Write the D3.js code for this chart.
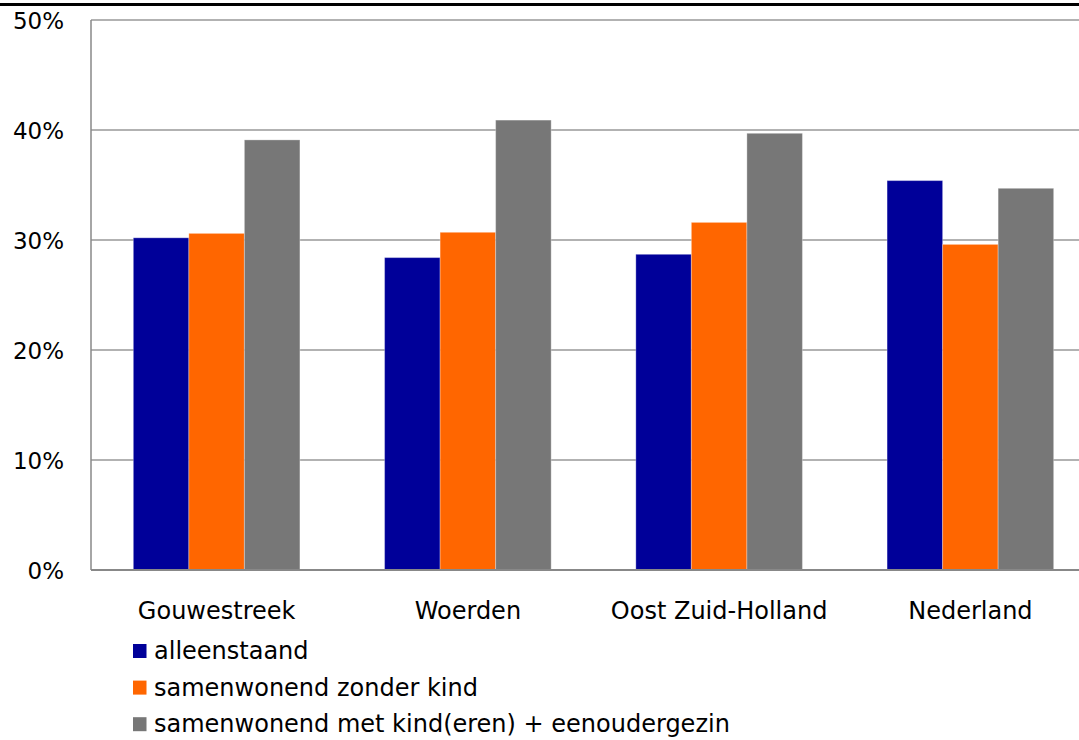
<!DOCTYPE html>
<html>
<head>
<meta charset="utf-8">
<script src="https://cdn.jsdelivr.net/npm/d3@7/dist/d3.min.js"></script>
<style>
  html, body { margin: 0; padding: 0; background: #fff; }
  svg { display: block; }
  text { font-family: "DejaVu Sans", Verdana, sans-serif; fill: #000; }
</style>
</head>
<body>
<svg id="chart" width="1079" height="740"></svg>
<script>
// Household composition per region (share of households)
const categories = ["Gouwestreek", "Woerden", "Oost Zuid-Holland", "Nederland"];
const seriesNames = [
  "alleenstaand",
  "samenwonend zonder kind",
  "samenwonend met kind(eren) + eenoudergezin"
];
const alleenstaand = [30.2, 28.4, 28.7, 35.4];
const samenwonendZonderKind = [30.6, 30.7, 31.6, 29.6];
const samenwonendMetKind = [39.1, 40.9, 39.7, 34.7];
const yTicks = [0, 10, 20, 30, 40, 50];
const colors = ["#000099", "#ff6600", "#777777"];

const seriesValues = [alleenstaand, samenwonendZonderKind, samenwonendMetKind];

const svg = d3.select("#chart");
const plot = { left: 91, right: 1096, top: 20, bottom: 570 };
const fontSize = 24;

// Thick rule at the top of the page
svg.append("rect")
  .attr("x", 0).attr("y", 3)
  .attr("width", 1079).attr("height", 3)
  .attr("fill", "#000");

const x0 = d3.scaleBand()
  .domain(categories)
  .range([plot.left, plot.right])
  .paddingInner(0.337)
  .paddingOuter(0.1685);

const x1 = d3.scaleBand()
  .domain(d3.range(seriesNames.length))
  .range([0, x0.bandwidth()])
  .padding(0);

const y = d3.scaleLinear()
  .domain([0, 50])
  .range([plot.bottom, plot.top]);

// Horizontal gridlines
svg.append("g")
  .selectAll("line")
  .data(yTicks.filter(t => t > 0))
  .join("line")
  .attr("x1", plot.left).attr("x2", plot.right)
  .attr("y1", d => y(d)).attr("y2", d => y(d))
  .attr("stroke", "#999")
  .attr("stroke-width", 1.3);

// Y axis labels
const yAxis = d3.axisLeft(y)
  .tickValues(yTicks)
  .tickFormat(d => d + "%")
  .tickSize(0)
  .tickPadding(27);

svg.append("g")
  .attr("transform", `translate(${plot.left},0)`)
  .call(yAxis)
  .call(g => g.select(".domain").remove())
  .call(g => g.selectAll("text")
    .attr("font-family", "DejaVu Sans, Verdana, sans-serif")
    .attr("font-size", fontSize - 1)
    .attr("fill", "#000")
    .attr("dy", "0.36em"));

// Bars
const groups = svg.append("g")
  .selectAll("g")
  .data(categories)
  .join("g")
  .attr("transform", d => `translate(${x0(d)},0)`);

groups.selectAll("rect")
  .data((d, i) => seriesValues.map((vals, s) => ({ s, v: vals[i] })))
  .join("rect")
  .attr("x", d => x1(d.s))
  .attr("y", d => y(d.v))
  .attr("width", x1.bandwidth())
  .attr("height", d => y(0) - y(d.v))
  .attr("fill", d => colors[d.s])
  .attr("stroke", "rgba(255,255,255,0.3)")
  .attr("stroke-width", 1);

// Left axis line and baseline
svg.append("line")
  .attr("x1", plot.left).attr("x2", plot.left)
  .attr("y1", plot.top).attr("y2", plot.bottom)
  .attr("stroke", "#888").attr("stroke-width", 1.5);
svg.append("line")
  .attr("x1", plot.left).attr("x2", plot.right)
  .attr("y1", plot.bottom).attr("y2", plot.bottom)
  .attr("stroke", "#888").attr("stroke-width", 2);

// Category labels
const xAxis = d3.axisBottom(x0).tickSize(0).tickPadding(0);
svg.append("g")
  .attr("transform", `translate(0,${plot.bottom})`)
  .call(xAxis)
  .call(g => g.select(".domain").remove())
  .call(g => g.selectAll("text")
    .attr("font-family", "DejaVu Sans, Verdana, sans-serif")
    .attr("font-size", fontSize)
    .attr("fill", "#000")
    .attr("dy", null)
    .attr("y", 49));

// Legend
const legend = svg.append("g")
  .selectAll("g")
  .data(seriesNames)
  .join("g")
  .attr("transform", (d, i) => `translate(133,${644 + i * 36.6})`);

legend.append("rect")
  .attr("width", 13.5).attr("height", 14)
  .attr("fill", (d, i) => colors[i]);

legend.append("text")
  .attr("x", 21)
  .attr("y", 15)
  .attr("font-size", fontSize)
  .text(d => d);
</script>
</body>
</html>
